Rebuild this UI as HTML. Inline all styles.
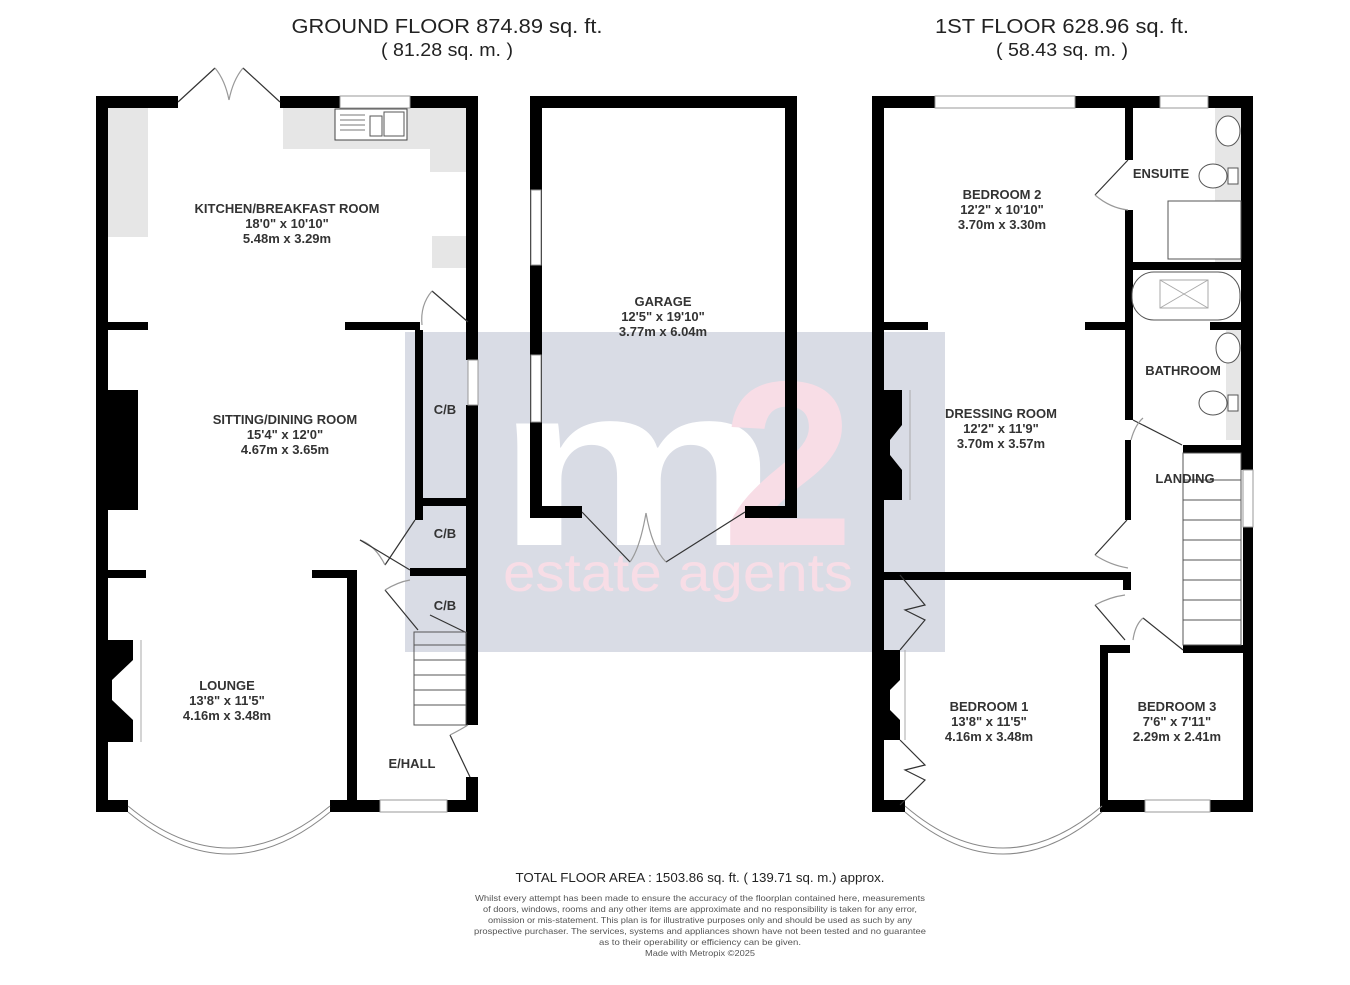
<!DOCTYPE html>
<html><head><meta charset="utf-8"><style>
html,body{margin:0;padding:0;background:#fff;}
svg{display:block;}
.t{font-family:"Liberation Sans",sans-serif;fill:#222;}
.r{font-family:"Liberation Sans",sans-serif;font-weight:bold;font-size:13px;fill:#333;text-anchor:middle;}
.d{font-family:"Liberation Sans",sans-serif;font-size:8.5px;fill:#555;text-anchor:middle;}
</style></head><body>
<svg width="1350" height="985" viewBox="0 0 1350 985" xmlns="http://www.w3.org/2000/svg">
<!-- watermark -->
<rect x="405" y="332" width="540" height="320" fill="#d9dce5"/>
<text x="495" y="545" font-family="Liberation Sans,sans-serif" font-weight="bold" font-size="230" fill="#ffffff" textLength="285" lengthAdjust="spacingAndGlyphs">m</text>
<text x="722" y="545" font-family="Liberation Sans,sans-serif" font-weight="bold" font-size="235" fill="#f8dde6" textLength="132" lengthAdjust="spacingAndGlyphs">2</text>
<text x="503" y="591" font-family="Liberation Sans,sans-serif" font-size="54" fill="#f8dde6" textLength="350" lengthAdjust="spacingAndGlyphs">estate  agents</text>

<!-- titles -->
<text class="t" x="447" y="33" font-size="20" text-anchor="middle" textLength="311" lengthAdjust="spacingAndGlyphs">GROUND FLOOR 874.89 sq. ft.</text>
<text class="t" x="447" y="56" font-size="18" text-anchor="middle" textLength="132" lengthAdjust="spacingAndGlyphs">( 81.28 sq. m. )</text>
<text class="t" x="1062" y="33" font-size="20" text-anchor="middle" textLength="254" lengthAdjust="spacingAndGlyphs">1ST FLOOR 628.96 sq. ft.</text>
<text class="t" x="1062" y="56" font-size="18" text-anchor="middle" textLength="132" lengthAdjust="spacingAndGlyphs">( 58.43 sq. m. )</text>

<!-- GROUND FLOOR counters -->
<g fill="#e6e6e6">
<rect x="108" y="108" width="40" height="129"/>
<rect x="283" y="108" width="183" height="41"/>
<rect x="430" y="108" width="36" height="64"/>
<rect x="432" y="236" width="34" height="32"/>
</g>
<rect x="335" y="109" width="72" height="31" fill="#fff" stroke="#444" stroke-width="1"/>
<g stroke="#777" stroke-width="1"><line x1="340" y1="115" x2="365" y2="115"/><line x1="340" y1="120" x2="365" y2="120"/><line x1="340" y1="125" x2="365" y2="125"/><line x1="340" y1="130" x2="365" y2="130"/></g>
<rect x="370" y="116" width="12" height="20" fill="none" stroke="#555"/>
<rect x="384" y="112" width="20" height="24" fill="none" stroke="#555"/>

<g fill="#000">
<rect x="96" y="96" width="12" height="716"/>
<rect x="96" y="96" width="82" height="12"/>
<rect x="280" y="96" width="60" height="12"/>
<rect x="410" y="96" width="68" height="12"/>
<rect x="466" y="96" width="12" height="264"/>
<rect x="466" y="405" width="12" height="320"/>
<rect x="466" y="777" width="12" height="35"/>
<rect x="96" y="800" width="32" height="12"/>
<rect x="330" y="800" width="50" height="12"/>
<rect x="447" y="800" width="31" height="12"/>
<rect x="108" y="322" width="40" height="8"/>
<rect x="345" y="322" width="75" height="8"/>
<rect x="415" y="330" width="8" height="176"/>
<rect x="415" y="498" width="63" height="8"/>
<rect x="415" y="506" width="8" height="14"/>
<rect x="410" y="568" width="68" height="8"/>
<rect x="108" y="570" width="38" height="8"/>
<rect x="312" y="570" width="45" height="8"/>
<rect x="347" y="570" width="10" height="240"/>
<rect x="108" y="390" width="30" height="120"/>
<polygon points="108,640 133,640 133,660 112,680 112,700 133,720 133,742 108,742"/>
</g>
<line x1="141" y1="640" x2="141" y2="742" stroke="#aaa" stroke-width="1"/>
<g fill="#fff" stroke="#999" stroke-width="1">
<rect x="340" y="96" width="70" height="12"/>
<rect x="468" y="360" width="10" height="45"/>
<rect x="380" y="800" width="67" height="12"/>
</g>
<path d="M128,806 Q229,890 330,806" fill="none" stroke="#888" stroke-width="1"/>
<path d="M128,812 Q229,896 330,812" fill="none" stroke="#888" stroke-width="1"/>
<g fill="none" stroke="#333" stroke-width="1.2">
<line x1="178" y1="102" x2="215" y2="68"/><line x1="280" y1="102" x2="243" y2="68"/>
<path d="M215,68 Q225,80 229,100" stroke="#999"/><path d="M243,68 Q233,80 229,100" stroke="#999"/>
<line x1="468" y1="322" x2="432" y2="291"/><path d="M432,291 Q420,305 422,325" stroke="#999"/>
<line x1="385" y1="565" x2="415" y2="520"/><path d="M360,540 Q375,545 385,565" stroke="#999"/>
<line x1="360" y1="540" x2="410" y2="570"/>
<line x1="385" y1="590" x2="418" y2="630"/><path d="M385,590 Q398,582 410,580" stroke="#999"/>
<line x1="430" y1="615" x2="467" y2="633"/>
<line x1="450" y1="735" x2="470" y2="777"/><path d="M450,735 Q460,730 468,725" stroke="#999"/>
</g>
<g fill="none" stroke="#555" stroke-width="1">
<rect x="414" y="632" width="52" height="93"/>
<line x1="414" y1="645" x2="466" y2="645"/><line x1="414" y1="660" x2="466" y2="660"/><line x1="414" y1="675" x2="466" y2="675"/><line x1="414" y1="690" x2="466" y2="690"/><line x1="414" y1="705" x2="466" y2="705"/>
</g>

<!-- GARAGE -->
<g fill="#000">
<rect x="530" y="96" width="267" height="12"/>
<rect x="530" y="96" width="12" height="422"/>
<rect x="785" y="96" width="12" height="422"/>
<rect x="530" y="506" width="52" height="12"/>
<rect x="745" y="506" width="52" height="12"/>
</g>
<g fill="#fff" stroke="#999"><rect x="531" y="190" width="10" height="75"/><rect x="531" y="355" width="10" height="67"/></g>
<g fill="none" stroke="#333" stroke-width="1.2">
<line x1="582" y1="512" x2="630" y2="562"/><line x1="745" y1="512" x2="666" y2="562"/>
<path d="M630,562 Q640,548 646,513" stroke="#999"/><path d="M666,562 Q652,548 646,513" stroke="#999"/>
</g>

<!-- FIRST FLOOR -->
<g fill="#e6e6e6"><rect x="1215" y="108" width="26" height="160"/><rect x="1226" y="330" width="15" height="110"/></g>
<g fill="#000">
<rect x="872" y="96" width="12" height="716"/>
<rect x="872" y="96" width="381" height="12"/>
<rect x="1241" y="96" width="12" height="374"/>
<rect x="1243" y="527" width="10" height="285"/>
<rect x="872" y="800" width="33" height="12"/>
<rect x="1100" y="800" width="45" height="12"/>
<rect x="1210" y="800" width="43" height="12"/>
<rect x="1125" y="108" width="8" height="52"/>
<rect x="1125" y="210" width="8" height="210"/>
<rect x="1125" y="262" width="116" height="8"/>
<rect x="1210" y="322" width="31" height="8"/>
<rect x="884" y="322" width="44" height="8"/>
<rect x="1085" y="322" width="40" height="8"/>
<rect x="1125" y="440" width="6" height="80"/>
<rect x="1183" y="445" width="60" height="8"/>
<rect x="884" y="572" width="246" height="8"/>
<rect x="1123" y="572" width="8" height="18"/>
<rect x="1100" y="645" width="30" height="8"/>
<rect x="1183" y="645" width="60" height="8"/>
<rect x="1100" y="645" width="8" height="165"/>
<polygon points="884,390 902,390 902,425 890,440 890,455 902,470 902,500 884,500"/>
<polygon points="884,650 900,650 900,680 890,690 890,710 900,720 900,740 884,740"/>
</g>
<line x1="910" y1="390" x2="910" y2="500" stroke="#aaa"/>
<line x1="905" y1="650" x2="905" y2="740" stroke="#aaa"/>
<g fill="#fff" stroke="#999">
<rect x="935" y="96" width="140" height="12"/>
<rect x="1160" y="96" width="48" height="12"/>
<rect x="1243" y="470" width="10" height="57"/>
<rect x="1145" y="800" width="65" height="12"/>
</g>
<path d="M905,806 Q1003,890 1102,806" fill="none" stroke="#888"/>
<path d="M905,812 Q1003,896 1102,812" fill="none" stroke="#888"/>
<g fill="#fff" stroke="#555" stroke-width="1">
<ellipse cx="1228" cy="131" rx="12" ry="15"/>
<ellipse cx="1213" cy="176" rx="14" ry="12"/><rect x="1228" y="168" width="10" height="16"/>
<rect x="1168" y="201" width="73" height="58"/>
<rect x="1132" y="272" width="108" height="48" rx="22"/>
<rect x="1160" y="280" width="48" height="28" stroke="#aaa"/>
<ellipse cx="1228" cy="348" rx="12" ry="15"/>
<ellipse cx="1213" cy="403" rx="14" ry="12"/><rect x="1228" y="395" width="10" height="16"/>
</g>
<g stroke="#aaa"><line x1="1160" y1="280" x2="1208" y2="308"/><line x1="1208" y1="280" x2="1160" y2="308"/></g>
<g fill="none" stroke="#333" stroke-width="1.2">
<line x1="1128" y1="160" x2="1095" y2="195"/><path d="M1095,195 Q1110,208 1128,210" stroke="#999"/>
<line x1="1133" y1="420" x2="1182" y2="445"/><path d="M1131,440 Q1135,425 1143,418" stroke="#999"/>
<line x1="1127" y1="520" x2="1095" y2="555"/><path d="M1095,555 Q1110,565 1128,568" stroke="#999"/>
<line x1="1095" y1="605" x2="1125" y2="640"/><path d="M1095,605 Q1110,597 1125,595" stroke="#999"/>
<line x1="1143" y1="618" x2="1183" y2="650"/><path d="M1133,640 Q1135,625 1143,618" stroke="#999"/>
<polyline points="900,575 925,605 905,610 925,620 900,650"/>
<polyline points="900,740 925,765 905,770 925,780 900,805"/>
</g>
<g fill="none" stroke="#555">
<rect x="1183" y="453" width="58" height="192"/>
<line x1="1183" y1="480" x2="1241" y2="480"/><line x1="1183" y1="500" x2="1241" y2="500"/><line x1="1183" y1="520" x2="1241" y2="520"/><line x1="1183" y1="540" x2="1241" y2="540"/><line x1="1183" y1="560" x2="1241" y2="560"/><line x1="1183" y1="580" x2="1241" y2="580"/><line x1="1183" y1="600" x2="1241" y2="600"/><line x1="1183" y1="620" x2="1241" y2="620"/>
</g>

<!-- labels -->
<text class="r" x="287" y="213">KITCHEN/BREAKFAST ROOM</text>
<text class="r" x="287" y="228">18'0" x 10'10"</text>
<text class="r" x="287" y="243">5.48m x 3.29m</text>
<text class="r" x="285" y="424">SITTING/DINING ROOM</text>
<text class="r" x="285" y="439">15'4" x 12'0"</text>
<text class="r" x="285" y="454">4.67m x 3.65m</text>
<text class="r" x="227" y="690">LOUNGE</text>
<text class="r" x="227" y="705">13'8" x 11'5"</text>
<text class="r" x="227" y="720">4.16m x 3.48m</text>
<text class="r" x="445" y="414">C/B</text>
<text class="r" x="445" y="538">C/B</text>
<text class="r" x="445" y="610">C/B</text>
<text class="r" x="412" y="768">E/HALL</text>
<text class="r" x="663" y="306">GARAGE</text>
<text class="r" x="663" y="321">12'5" x 19'10"</text>
<text class="r" x="663" y="336">3.77m x 6.04m</text>
<text class="r" x="1002" y="199">BEDROOM 2</text>
<text class="r" x="1002" y="214">12'2" x 10'10"</text>
<text class="r" x="1002" y="229">3.70m x 3.30m</text>
<text class="r" x="1161" y="178">ENSUITE</text>
<text class="r" x="1183" y="375">BATHROOM</text>
<text class="r" x="1001" y="418">DRESSING ROOM</text>
<text class="r" x="1001" y="433">12'2" x 11'9"</text>
<text class="r" x="1001" y="448">3.70m x 3.57m</text>
<text class="r" x="1185" y="483">LANDING</text>
<text class="r" x="989" y="711">BEDROOM 1</text>
<text class="r" x="989" y="726">13'8" x 11'5"</text>
<text class="r" x="989" y="741">4.16m x 3.48m</text>
<text class="r" x="1177" y="711">BEDROOM 3</text>
<text class="r" x="1177" y="726">7'6" x 7'11"</text>
<text class="r" x="1177" y="741">2.29m x 2.41m</text>

<text class="t" x="700" y="882" font-size="12.5" text-anchor="middle" textLength="369" lengthAdjust="spacingAndGlyphs">TOTAL FLOOR AREA : 1503.86 sq. ft. ( 139.71 sq. m.) approx.</text>
<text class="d" x="700" y="901" textLength="450" lengthAdjust="spacingAndGlyphs">Whilst every attempt has been made to ensure the accuracy of the floorplan contained here, measurements</text>
<text class="d" x="700" y="912" textLength="434" lengthAdjust="spacingAndGlyphs">of doors, windows, rooms and any other items are approximate and no responsibility is taken for any error,</text>
<text class="d" x="700" y="923" textLength="424" lengthAdjust="spacingAndGlyphs">omission or mis-statement. This plan is for illustrative purposes only and should be used as such by any</text>
<text class="d" x="700" y="934" textLength="452" lengthAdjust="spacingAndGlyphs">prospective purchaser. The services, systems and appliances shown have not been tested and no guarantee</text>
<text class="d" x="700" y="945" textLength="202" lengthAdjust="spacingAndGlyphs">as to their operability or efficiency can be given.</text>
<text class="d" x="700" y="956" textLength="110" lengthAdjust="spacingAndGlyphs">Made with Metropix ©2025</text>
</svg>
</body></html>
